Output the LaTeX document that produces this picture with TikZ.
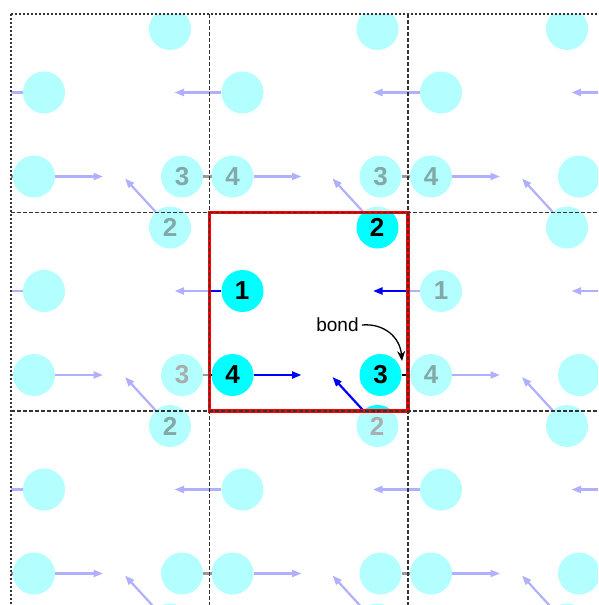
\documentclass[tikz,border=0pt]{standalone}
\usepackage{fontspec}
\setmainfont{Liberation Sans}
\usetikzlibrary{arrows.meta}
\definecolor{fadecyan}{HTML}{B3FFFF}
\definecolor{fadeblue}{HTML}{B0B0FF}
\definecolor{fadebond}{HTML}{9A9A9A}
\definecolor{tealgray}{HTML}{82A8A8}
\definecolor{ltgray}{HTML}{A9ADAD}
\definecolor{brightcyan}{HTML}{00FFFF}
\definecolor{vecblue}{HTML}{0000FF}
\colorlet{atomc}{fadecyan}
\colorlet{vecc}{fadeblue}
\colorlet{bondc}{fadebond}
\newcommand\cella{198.5}
\newcommand\motifatoms[4]{%
  \node[atom] (p1#4) at ({#1+33},{#2+78.5}) {};
  \node[atom] (p2#4) at ({#1+#3},{#2+15}) {};
  \node[atom] (p3#4) at ({#1+171},{#2+162.5}) {};
  \node[atom] (p4#4) at ({#1+23},{#2+162.5}) {};
}
\newcommand\motifvecs[4]{%
  \coordinate (t1#4) at ({#1+33-68},{#2+78.5});
  \coordinate (t2#4) at ({#1+#3-45},{#2+15-49});
  \coordinate (t4#4) at ({#1+23+69},{#2+162.5});
  \coordinate (b4#4) at ({#1+23+198.5-21},{#2+162.5});
  \draw[mvec] (p1#4) -- (t1#4);
  \draw[mvec] (p2#4) -- (t2#4);
  \draw[mvec] (p4#4) -- (t4#4);
  \draw[bondline] (p3#4) -- (b4#4);
}
\tikzset{
  atom/.style={circle, fill=atomc, draw=none, minimum size=42pt, inner sep=0pt},
  mvec/.style={draw=vecc, line width=2.2pt, -{Triangle[length=9.5pt,width=7pt]}},
  bondline/.style={draw=bondc, line width=2.6pt},
  lbl/.style={font=\fontsize{26}{26}\selectfont\bfseries, inner sep=0pt},
  outerline/.style={draw=black!80, line width=1.7pt, dash pattern=on 1.5pt off 2.5pt},
  innerline/.style={draw=black!80, line width=1.7pt, dash pattern=on 3.5pt off 2.5pt},
}
\begin{document}
\begin{tikzpicture}[x=1pt,y=-1pt]
\useasboundingbox (0,0) rectangle (598,605);
\clip (0,0) rectangle (598,605);
\foreach \ci in {0,1,2}{
  \foreach \cj in {0,1,2}{
    \begin{scope}
      \pgfmathtruncatemacro\isc{(\ci==1)&&(\cj==1)}
      \ifnum\isc=1
        \colorlet{atomc}{brightcyan}\colorlet{vecc}{vecblue}\colorlet{bondc}{black}%
      \else
        \colorlet{atomc}{fadecyan}\colorlet{vecc}{fadeblue}\colorlet{bondc}{fadebond}%
      \fi
      \clip ({11+\ci*\cella},{14+\cj*\cella}) rectangle ++(\cella,\cella);
      \pgfmathtruncatemacro\ilo{\ci-1}
      \pgfmathtruncatemacro\ihi{\ci+1}
      \pgfmathtruncatemacro\jlo{\cj-1}
      \pgfmathtruncatemacro\jhi{\cj+1}
      \foreach \mi in {\ilo,...,\ihi}{
        \foreach \mj in {\jlo,...,\jhi}{
          \ifnum\mi=1 \def\atwo{168}\else\def\atwo{159}\fi
          \pgfmathsetmacro\ox{11+\mi*\cella}
          \pgfmathsetmacro\oy{14+\mj*\cella}
          \pgfmathtruncatemacro\kk{(\mi+1)*10+\mj+1}
          \motifatoms{\ox}{\oy}{\atwo}{k\kk}
        }
      }
      \foreach \mi in {\ilo,...,\ihi}{
        \foreach \mj in {\jlo,...,\jhi}{
          \ifnum\mi=1 \def\atwo{168}\else\def\atwo{159}\fi
          \pgfmathsetmacro\ox{11+\mi*\cella}
          \pgfmathsetmacro\oy{14+\mj*\cella}
          \pgfmathtruncatemacro\kk{(\mi+1)*10+\mj+1}
          \motifvecs{\ox}{\oy}{\atwo}{k\kk}
        }
      }
    \end{scope}
  }
}
% red unit cell
\draw[red, line width=3.2pt] (209.5,212.5) rectangle (408,411);
% grid
\draw[outerline] (11,14) -- (598,14);
\draw[outerline] (11,14) -- (11,605);
\draw[innerline] (11,212.5) -- (598,212.5);
\draw[innerline] (11,411) -- (598,411);
\draw[innerline] (209.5,14) -- (209.5,605);
\draw[innerline] (408,14) -- (408,605);
% faded labels
\node[lbl, text=tealgray] (f3a) at (182,176.5) {3};
\node[lbl, text=tealgray] (f4a) at (232.5,176.5) {4};
\node[lbl, text=tealgray] (f3b) at (380.5,176.5) {3};
\node[lbl, text=tealgray] (f4b) at (431,176.5) {4};
\node[lbl, text=tealgray] (f2a) at (170,227.5) {2};
\node[lbl, text=ltgray] (f3c) at (182,375) {3};
\node[lbl, text=tealgray] (f1a) at (441,291) {1};
\node[lbl, text=tealgray] (f4c) at (431,375) {4};
\node[lbl, text=tealgray] (f2b) at (170,426) {2};
\node[lbl, text=ltgray] (f2c) at (377,426) {2};
% central labels
\node[lbl] (c1) at (242,291) {1};
\node[lbl] (c2) at (377,227.5) {2};
\node[lbl] (c3) at (380.5,375) {3};
\node[lbl] (c4) at (232.5,375) {4};
% bond annotation
\node[font=\fontsize{19}{19}\selectfont, inner sep=0pt] (bondtxt) at (337.5,325) {bond};
\coordinate (bondtip) at (402,361);
\draw[line width=1.3pt, -{Stealth[length=10pt,width=8pt]}] ([xshift=3pt]bondtxt.east) .. controls +(22,-2) and +(-2,-24) .. (bondtip);
\end{tikzpicture}
\end{document}
